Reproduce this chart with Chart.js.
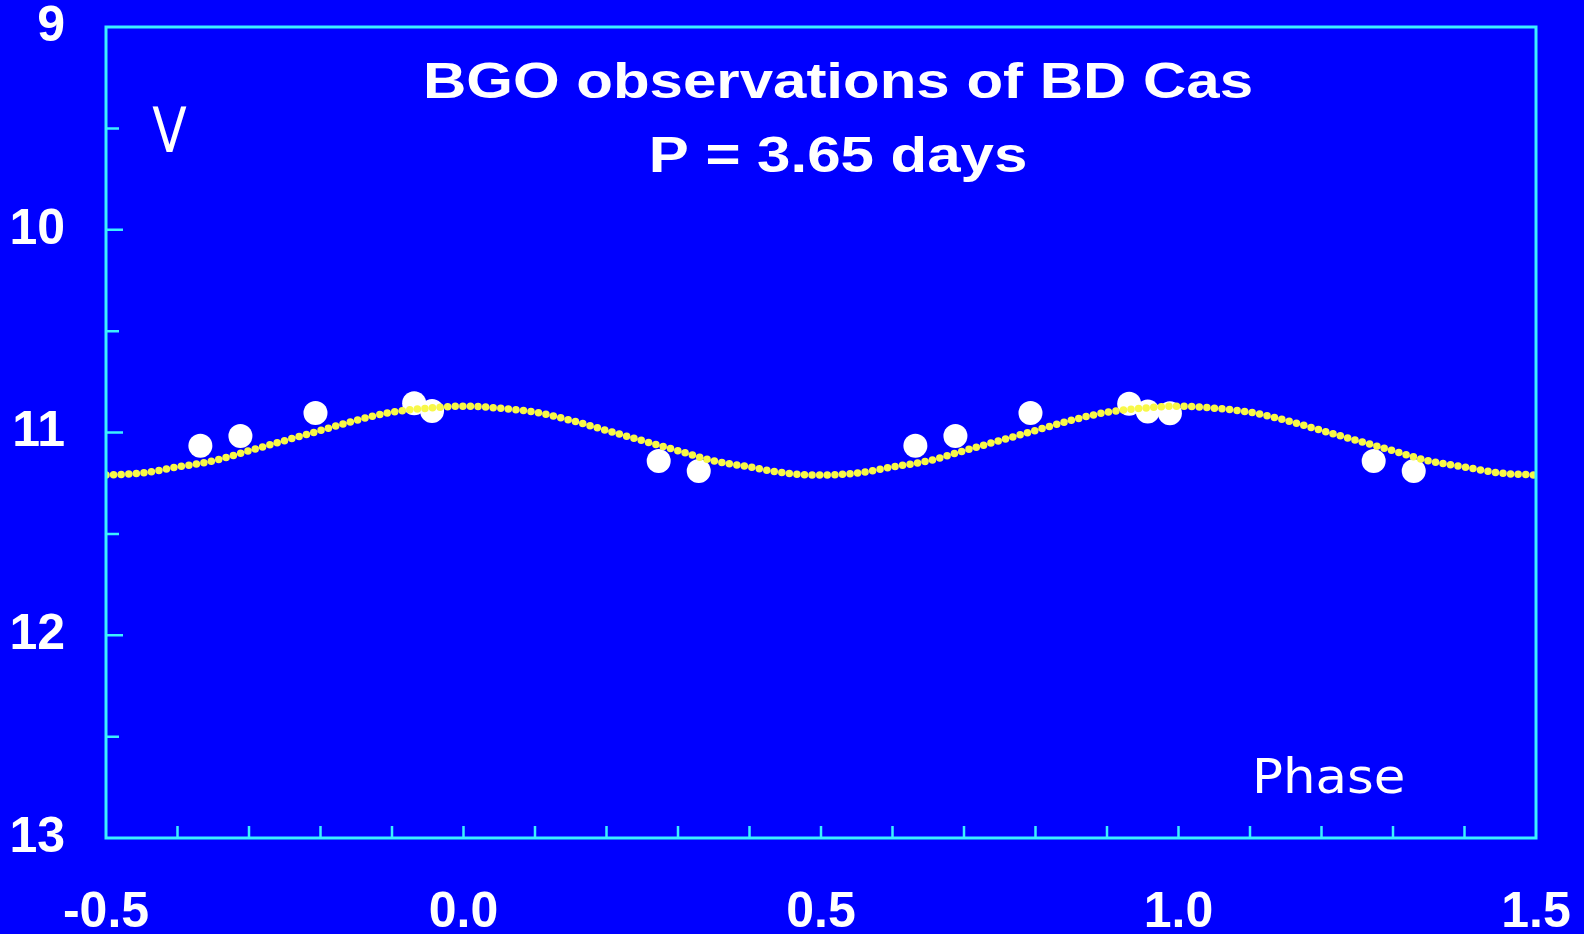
<!DOCTYPE html>
<html>
<head>
<meta charset="utf-8">
<script src="https://cdn.jsdelivr.net/npm/chart.js@4.4.1/dist/chart.umd.min.js"></script>
<style>
  html, body { margin: 0; padding: 0; background: #0000ff; }
  canvas { display: block; }
</style>
</head>
<body>
<canvas id="light-curve" width="1584" height="934"></canvas>
<script>
// fitted light curve, sampled every 0.05 in phase
const fitPhase = [-0.5, -0.45, -0.4, -0.35, -0.3, -0.25, -0.2, -0.15, -0.1, -0.05,
                  0.0, 0.05, 0.1, 0.15, 0.2, 0.25, 0.3, 0.35, 0.4, 0.45,
                  0.5, 0.55, 0.6, 0.65, 0.7, 0.75, 0.8, 0.85, 0.9, 0.95,
                  1.0, 1.05, 1.1, 1.15, 1.2, 1.25, 1.3, 1.35, 1.4, 1.45, 1.5];
const fitMag = [11.21, 11.20, 11.17, 11.14, 11.09, 11.04, 10.99, 10.94, 10.90, 10.88,
                10.87, 10.88, 10.90, 10.94, 10.99, 11.04, 11.09, 11.14, 11.17, 11.20,
                11.21, 11.20, 11.17, 11.14, 11.09, 11.04, 10.99, 10.94, 10.90, 10.88,
                10.87, 10.88, 10.90, 10.94, 10.99, 11.04, 11.09, 11.14, 11.17, 11.20, 11.21];

// BGO measurements
const obsPhase = [-0.368, -0.312, -0.207, -0.069, -0.044, 0.273, 0.329,
                  0.632, 0.688, 0.793, 0.931, 0.957, 0.988, 1.273, 1.329];
const obsMag = [11.065, 11.017, 10.904, 10.856, 10.894, 11.141, 11.190,
                11.065, 11.017, 10.904, 10.858, 10.897, 10.905, 11.141, 11.190];

const phaseTicks = [-0.5, 0.0, 0.5, 1.0, 1.5];
const magTicks = [9, 10, 11, 12, 13];
const titleLines = ['BGO observations of BD Cas', 'P = 3.65 days'];

const axisColor = '#3cf0ff';
const textColor = '#ffffff';

Chart.defaults.font.family = '"Liberation Sans", Arial, sans-serif';

function stretchedText(ctx, text, x, baseline, sx, align) {
  ctx.save();
  ctx.translate(x, baseline);
  ctx.scale(sx, 1);
  ctx.textAlign = align;
  ctx.textBaseline = 'alphabetic';
  ctx.fillText(text, 0, 0);
  ctx.restore();
}

// boxed frame with inward ticks, plus the title and axis names
const slideDecor = {
  id: 'slideDecor',
  afterDraw(chart) {
    const ctx = chart.ctx;
    const a = chart.chartArea;
    const xs = chart.scales.x;
    const ys = chart.scales.y;
    ctx.save();
    ctx.strokeStyle = axisColor;
    ctx.lineWidth = 3;
    ctx.strokeRect(a.left, a.top, a.right - a.left, a.bottom - a.top);

    ctx.lineWidth = 2.5;
    ctx.beginPath();
    for (let i = 1; i < 20; i++) {
      const px = xs.getPixelForValue(-0.5 + i * 0.1);
      ctx.moveTo(px, a.bottom);
      ctx.lineTo(px, a.bottom - 12);
    }
    for (let i = 1; i < 8; i++) {
      const v = 9 + i * 0.5;
      const py = ys.getPixelForValue(v);
      ctx.moveTo(a.left, py);
      ctx.lineTo(a.left + (i % 2 === 0 ? 17 : 13), py);
    }
    ctx.stroke();

    ctx.fillStyle = textColor;
    ctx.font = 'bold 50px "Liberation Sans", Arial, sans-serif';
    stretchedText(ctx, titleLines[0], a.left + 732, 98, 1.2, 'center');
    stretchedText(ctx, titleLines[1], a.left + 732, 172, 1.2, 'center');

    ctx.font = '63px "DejaVu Sans", sans-serif';
    stretchedText(ctx, 'V', a.left + 63.5, 152, 0.8, 'center');

    ctx.font = '48px "DejaVu Sans", sans-serif';
    stretchedText(ctx, 'Phase', 1252, 793, 1.07, 'left');
    ctx.restore();
  }
};

// keep the plot box where the layout padding puts it
function noLabelPadding(s) {
  s.paddingTop = 0;
  s.paddingBottom = 0;
  s.paddingLeft = 0;
  s.paddingRight = 0;
}

new Chart(document.getElementById('light-curve'), {
  type: 'scatter',
  data: {
    datasets: [{
      label: 'fit',
      data: fitPhase.map((p, i) => ({ x: p, y: fitMag[i] })),
      showLine: true,
      borderColor: '#f8f848',
      borderWidth: 7.5,
      borderDash: [0, 7.6],
      borderCapStyle: 'round',
      cubicInterpolationMode: 'monotone',
      pointRadius: 0,
      order: 0
    }, {
      label: 'V',
      data: obsPhase.map((p, i) => ({ x: p, y: obsMag[i] })),
      pointRadius: 12,
      pointBackgroundColor: '#ffffff',
      pointBorderWidth: 0,
      order: 1
    }]
  },
  options: {
    responsive: false,
    animation: false,
    devicePixelRatio: 1,
    layout: { padding: { top: 27, right: 48, left: 0, bottom: 0 } },
    plugins: { legend: { display: false }, tooltip: { enabled: false } },
    scales: {
      x: {
        type: 'linear',
        min: -0.5,
        max: 1.5,
        afterBuildTicks: s => { s.ticks = phaseTicks.map(v => ({ value: v })); },
        afterFit: s => { s.height = 96; noLabelPadding(s); },
        grid: { display: false, drawTicks: false },
        border: { display: false },
        ticks: {
          color: textColor,
          padding: 50,
          maxRotation: 0,
          font: { size: 50, weight: 'bold', lineHeight: 1 },
          callback: v => v.toFixed(1)
        }
      },
      y: {
        type: 'linear',
        reverse: true,
        min: 9,
        max: 13,
        afterBuildTicks: s => { s.ticks = magTicks.map(v => ({ value: v })); },
        afterFit: s => { s.width = 106; noLabelPadding(s); },
        grid: { display: false, drawTicks: false },
        border: { display: false },
        ticks: {
          color: textColor,
          padding: 41,
          font: { size: 50, weight: 'bold', lineHeight: 1 },
          callback: v => String(v)
        }
      }
    }
  },
  plugins: [slideDecor]
});
</script>
</body>
</html>
